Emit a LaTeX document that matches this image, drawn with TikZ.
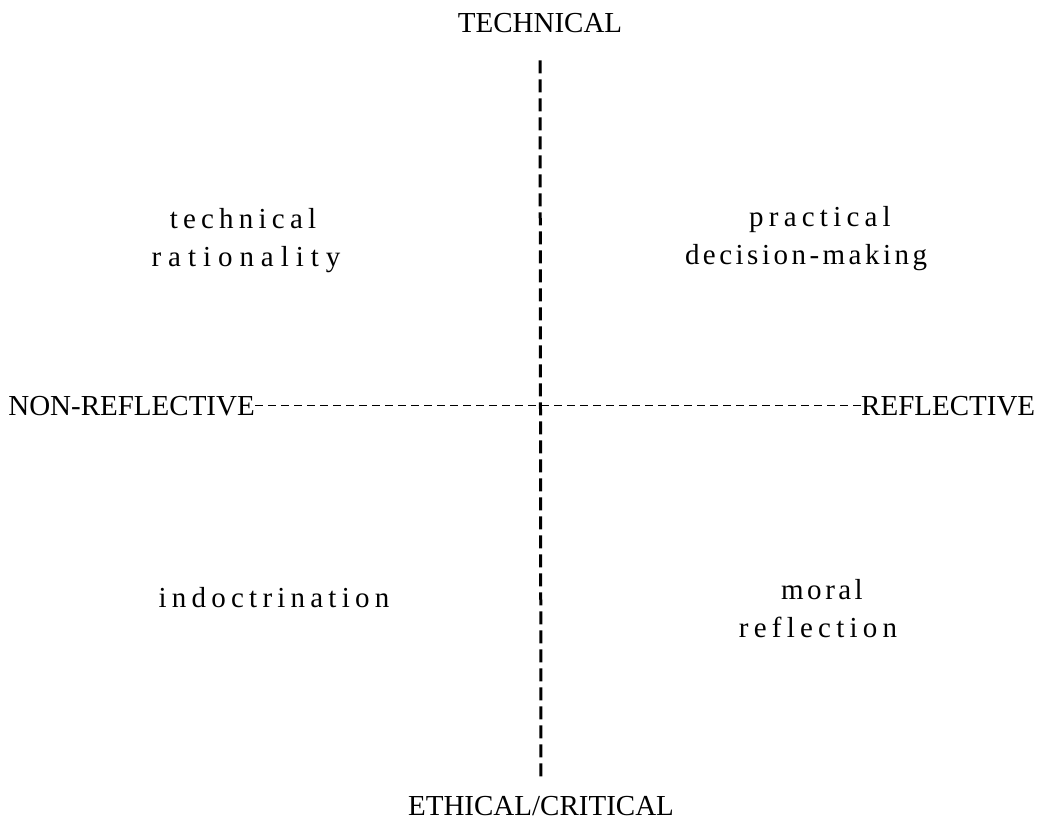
\documentclass[tikz,border=0pt]{standalone}
\usepackage{fontspec}
\setmainfont{Liberation Serif}
\newfontfamily\spacedfont[LetterSpace=18]{Liberation Serif}
\newfontfamily\widefont[LetterSpace=24]{Liberation Serif}
\newfontfamily\tightfont[LetterSpace=12]{Liberation Serif}
\begin{document}
\begin{tikzpicture}[x=1pt,y=-1pt,
  axislabel/.style={inner sep=0pt,font=\fontsize{29}{34}\selectfont},
  quadlabel/.style={inner sep=0pt,anchor=base,font=\fontsize{29}{34}\spacedfont},
  vaxis/.style={line width=3pt,dash pattern=on 13pt off 6pt},
  haxis/.style={line width=1.4pt,dash pattern=on 8pt off 5pt}]
  \useasboundingbox (0,0) rectangle (1060,831);

  % axis end labels
  \node[axislabel,anchor=base] (tech) at (540,32) {TECHNICAL};
  \node[axislabel,anchor=base] (eth) at (541,815) {ETHICAL/CRITICAL};
  \node[axislabel,anchor=base east] (nonref) at (255,415) {NON-REFLECTIVE};
  \node[axislabel,anchor=base west] (ref) at (861,415) {REFLECTIVE};

  % axes
  \draw[vaxis,shorten <=28pt,shorten >=16pt] (tech.south) -- (eth.north);
  \draw[haxis] (nonref.east) -- (ref.west);

  % quadrant labels
  \node[quadlabel] (q1a) at (243,228) {technical};
  \node[quadlabel,font=\fontsize{29}{34}\widefont] (q1b) at (246,266) {rationality};
  \node[quadlabel] (q2a) at (820,226) {practical};
  \node[quadlabel,font=\fontsize{29}{34}\tightfont] (q2b) at (806,264) {decision-making};
  \node[quadlabel] (q3) at (274,607) {indoctrination};
  \node[quadlabel,font=\fontsize{29}{34}\tightfont] (q4a) at (822,599) {moral};
  \node[quadlabel] (q4b) at (818,637) {reflection};
\end{tikzpicture}
\end{document}
